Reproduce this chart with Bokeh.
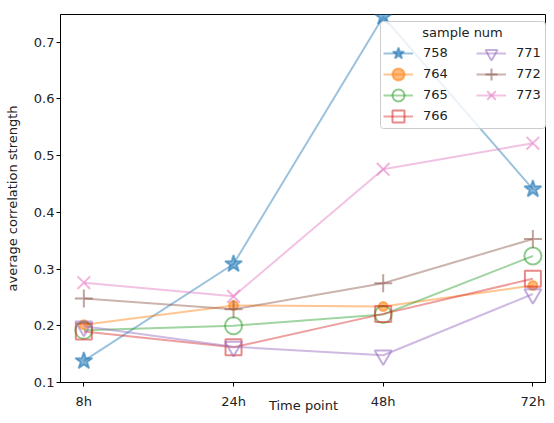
from bokeh.plotting import figure
from bokeh.models import Range1d, FixedTicker, Legend, LegendItem, BoxAnnotation, Label
from bokeh.embed import file_html
from bokeh.resources import INLINE

time_points = ["8h", "24h", "48h", "72h"]
samples = ["758", "764", "765", "766", "771", "772", "773"]
v758 = [0.138, 0.309, 0.745, 0.441]
v764 = [0.202, 0.236, 0.234, 0.271]
v765 = [0.192, 0.200, 0.220, 0.323]
v766 = [0.190, 0.162, 0.221, 0.283]
v771 = [0.199, 0.163, 0.148, 0.256]
v772 = [0.248, 0.229, 0.275, 0.353]
v773 = [0.276, 0.252, 0.476, 0.522]
y_ticks = [0.1, 0.2, 0.3, 0.4, 0.5, 0.6, 0.7]
legend_title = "sample num"

series = [v758, v764, v765, v766, v771, v772, v773]
colors = ["#1f77b4", "#ff7f0e", "#2ca02c", "#d62728", "#9467bd", "#8c564b", "#e377c2"]
markers = ["star", "circle", "circle", "square", "inverted_triangle", "cross", "x"]
sizes = [18, 9, 17, 16, 17, 18, 18]
filled = [True, True, False, False, False, False, False]

xs = list(range(len(time_points)))

FONT = "DejaVu Sans"
W, H = 546, 415
LEFT, TOP, BOTTOM = 60, 14, 33
FH = H - TOP - BOTTOM  # frame height in px

p = figure(width=W, height=H, output_backend="svg", toolbar_location=None,
           x_range=Range1d(-0.156, 3.091), y_range=Range1d(0.1, 0.749),
           min_border_left=LEFT, min_border_top=TOP, min_border_right=0, min_border_bottom=BOTTOM)
p.xgrid.visible = False
p.ygrid.visible = False
p.outline_line_color = "black"
p.outline_line_alpha = 1
p.outline_line_width = 1

for ax in (p.xaxis[0], p.yaxis[0]):
    ax.axis_line_color = "black"
    ax.major_tick_line_color = "black"
    ax.minor_tick_line_color = None
    ax.major_tick_in = 0
    ax.major_tick_out = 4
    ax.major_label_text_font = FONT
    ax.major_label_text_font_size = "13px"
    ax.major_label_text_color = "#222222"
    ax.axis_label_text_font = FONT
    ax.axis_label_text_font_size = "13px"
    ax.axis_label_text_font_style = "normal"
    ax.axis_label_text_color = "#222222"

p.xaxis.ticker = FixedTicker(ticks=xs)
p.xaxis.major_label_overrides = {i: t for i, t in zip(xs, time_points)}
p.xaxis.axis_label = "Time point"
p.xaxis.major_label_standoff = 7
p.xaxis.axis_label_standoff = -14
p.yaxis.ticker = FixedTicker(ticks=y_ticks)
p.yaxis.axis_label = "average correlation strength"
p.yaxis.axis_label_standoff = 11
p.yaxis.major_label_standoff = 2

items = []
for name, vals, c, m, s, f in zip(samples, series, colors, markers, sizes, filled):
    ln = p.line(xs, vals, line_color=c, line_width=2, line_alpha=0.45)
    sc = p.scatter(xs, vals, marker=m, size=s, line_color=c, line_width=2, line_alpha=0.55,
                   fill_color=c, fill_alpha=(0.55 if f else 0))
    items.append(LegendItem(label=name, renderers=[ln, sc]))

# legend frame (screen px relative to the plot frame, y from bottom)
box = BoxAnnotation(left=320, right=485, top=FH - 7, bottom=FH - 114,
                    left_units="screen", right_units="screen", top_units="screen", bottom_units="screen",
                    fill_color="white", fill_alpha=0.8, line_color="#cccccc", line_alpha=1,
                    line_width=1, border_radius=3)
p.add_layout(box)
p.add_layout(Label(x=402, y=FH - 18, x_units="screen", y_units="screen", text=legend_title,
                   text_align="center", text_baseline="middle", text_font=FONT,
                   text_font_size="13px", text_color="#222222"))

row_centers = [38.5, 59.5, 80.5, 101.5, 38.5, 59.5, 80.5]  # px below frame top
col_x = [323, 323, 323, 323, 416, 416, 416]
for it, rc, cx in zip(items, row_centers, col_x):
    lg = Legend(items=[it], location=(cx, FH - rc - 15),
                label_text_font=FONT, label_text_font_size="13px", label_text_color="#222222",
                glyph_width=30, glyph_height=30, label_height=30, label_standoff=10,
                spacing=0, padding=0, margin=0,
                border_line_color=None, background_fill_alpha=0)
    p.add_layout(lg)

open("out.html", "w").write(file_html(p, INLINE))
